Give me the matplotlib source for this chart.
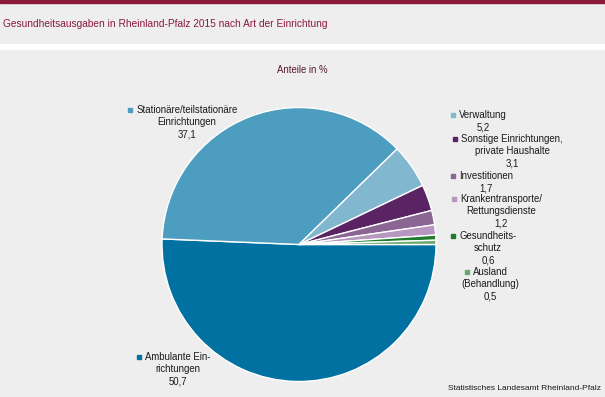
import matplotlib
matplotlib.use("Agg")
import matplotlib.pyplot as plt
from matplotlib.patches import Rectangle

plt.rcParams['font.family'] = ['Liberation Sans', 'DejaVu Sans']

# data, in drawing order (clockwise from 3 o'clock)
categories = ["Ambulante Einrichtungen", "Stationäre/teilstationäre Einrichtungen", "Verwaltung",
              "Sonstige Einrichtungen, private Haushalte", "Investitionen",
              "Krankentransporte/Rettungsdienste", "Gesundheitsschutz", "Ausland (Behandlung)"]
shares = [50.7, 37.1, 5.2, 3.1, 1.7, 1.2, 0.6, 0.5]
share_text = ["50,7", "37,1", "5,2", "3,1", "1,7", "1,2", "0,6", "0,5"]
label_lines = [["Ambulante Ein-", "richtungen"],
               ["Stationäre/teilstationäre", "Einrichtungen"],
               ["Verwaltung"],
               ["Sonstige Einrichtungen,", "private Haushalte"],
               ["Investitionen"],
               ["Krankentransporte/", "Rettungsdienste"],
               ["Gesundheits-", "schutz"],
               ["Ausland", "(Behandlung)"]]
colors = ["#0071a1", "#4c9dbf", "#82b7d0", "#5a2464", "#8b6694", "#b796bf", "#1f7a2c", "#6aaa6c"]

# label block layout in pixels: centre x, first line y
label_cx = [178, 187, 483, 512, 486, 501, 488, 490]
label_y = [357, 110, 115, 139, 176, 199, 236, 272]

W, H = 605, 397
bg = "#edeeed"
maroon = "#8b1a3a"

fig = plt.figure(figsize=(W / 100, H / 100), dpi=100)
fig.patch.set_facecolor(bg)


def fx(x):
    return x / W


def fy(y):
    return 1 - y / H


# top bar and white separator strip
fig.patches.append(Rectangle((0, fy(2.5)), 1, 2.5 / H, transform=fig.transFigure, color=maroon))
fig.patches.append(Rectangle((0, fy(49)), 1, 5 / H, transform=fig.transFigure, color="white"))

fig.text(fx(3), fy(27), "Gesundheitsausgaben in Rheinland-Pfalz 2015 nach Art der Einrichtung",
         fontsize=7.3, color=maroon, va="baseline", ha="left")
fig.text(fx(302), fy(70), "Anteile in %", fontsize=6.9, color="#5a1a30", ha="center", va="center")

# pie
cx, cy, r = 299, 244.5, 137
ax = fig.add_axes([fx(cx - r), fy(cy + r), 2 * r / W, 2 * r / H])
ax.pie(shares, colors=colors, startangle=0, counterclock=False, radius=1,
       wedgeprops=dict(edgecolor="white", linewidth=1))
ax.set_xlim(-1, 1)
ax.set_ylim(-1, 1)
ax.set_aspect("auto")
ax.axis("off")

# labels
step = 12.3
first_lines = []
for i in range(len(categories)):
    lines = label_lines[i] + [share_text[i]]
    for k, ln in enumerate(lines):
        t = fig.text(fx(label_cx[i]), fy(label_y[i] + k * step), ln, fontsize=6.9,
                     color="#1a1a1a", ha="center", va="center")
        if k == 0:
            first_lines.append(t)

fig.canvas.draw()
renderer = fig.canvas.get_renderer()
for i, t in enumerate(first_lines):
    bb = t.get_window_extent(renderer)
    mx = bb.x0 - 6
    my = fy(label_y[i]) * H
    fig.patches.append(Rectangle(((mx - 2) / W, (my - 2) / H), 4 / W, 4 / H,
                                 transform=fig.transFigure, color=colors[i]))

fig.text(fx(601), fy(388), "Statistisches Landesamt Rheinland-Pfalz", fontsize=6.0,
         color="#1a1a1a", ha="right", va="center")

fig.savefig("out.png", dpi=100, facecolor=bg)
